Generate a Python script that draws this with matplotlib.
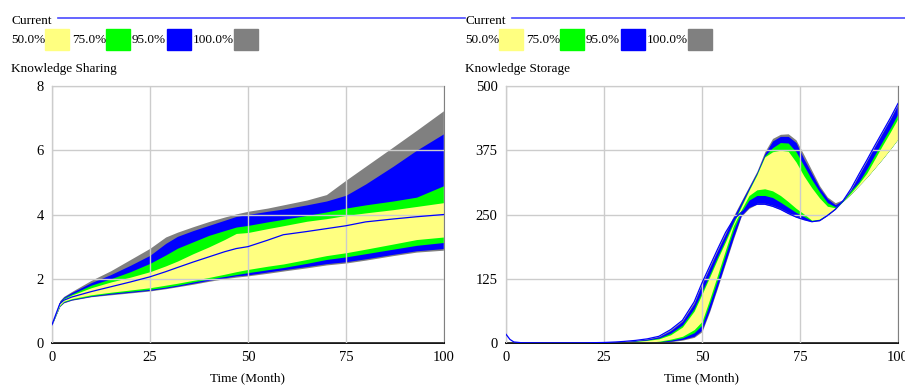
import numpy as np
import matplotlib
matplotlib.use("Agg")
import matplotlib.pyplot as plt
from matplotlib.patches import Rectangle

plt.rcParams['font.family'] = ['Liberation Serif', 'DejaVu Serif']

W, H = 905, 385

# ---- Knowledge Sharing (left panel) ----
share_t = [0, 1, 2, 3, 5, 10, 15, 20, 25, 29, 32, 36, 40, 44, 47, 50, 55, 59, 65, 70, 75, 80, 87, 93, 100]
share_gray_hi = [0.57, 0.95, 1.32, 1.45, 1.6, 1.95, 2.25, 2.6, 2.95, 3.3, 3.45, 3.62, 3.78, 3.92, 4.02, 4.1, 4.2, 4.3, 4.45, 4.62, 5.07, 5.5, 6.1, 6.62, 7.24]
share_blue_hi = [0.57, 0.95, 1.3, 1.43, 1.57, 1.88, 2.13, 2.42, 2.73, 3.1, 3.32, 3.5, 3.66, 3.82, 3.94, 4.0, 4.1, 4.17, 4.3, 4.42, 4.6, 4.95, 5.5, 6.0, 6.52]
share_green_hi = [0.57, 0.93, 1.27, 1.4, 1.52, 1.8, 2.0, 2.22, 2.48, 2.74, 2.95, 3.15, 3.35, 3.5, 3.61, 3.66, 3.77, 3.85, 3.97, 4.08, 4.2, 4.3, 4.42, 4.54, 4.9]
share_yellow_hi = [0.57, 0.92, 1.25, 1.37, 1.49, 1.72, 1.9, 2.05, 2.22, 2.4, 2.55, 2.78, 2.99, 3.22, 3.41, 3.44, 3.56, 3.65, 3.79, 3.87, 3.97, 4.05, 4.15, 4.25, 4.37]
share_current = [0.57, 0.9, 1.22, 1.33, 1.43, 1.6, 1.75, 1.9, 2.06, 2.22, 2.35, 2.52, 2.68, 2.84, 2.94, 3.0, 3.2, 3.37, 3.47, 3.56, 3.65, 3.77, 3.86, 3.93, 4.0]
share_yellow_lo = [0.57, 0.88, 1.18, 1.3, 1.38, 1.5, 1.58, 1.65, 1.72, 1.8, 1.86, 1.95, 2.04, 2.14, 2.22, 2.29, 2.39, 2.46, 2.6, 2.72, 2.81, 2.92, 3.08, 3.22, 3.3]
share_green_lo = [0.57, 0.87, 1.16, 1.28, 1.36, 1.47, 1.55, 1.61, 1.67, 1.74, 1.8, 1.9, 1.99, 2.07, 2.13, 2.19, 2.28, 2.35, 2.48, 2.6, 2.68, 2.78, 2.92, 3.04, 3.13]
share_blue_lo = [0.57, 0.86, 1.15, 1.26, 1.34, 1.45, 1.52, 1.58, 1.64, 1.71, 1.77, 1.86, 1.95, 2.03, 2.09, 2.12, 2.21, 2.28, 2.38, 2.47, 2.53, 2.62, 2.76, 2.87, 2.94]
share_gray_lo = [0.57, 0.86, 1.14, 1.25, 1.33, 1.44, 1.5, 1.56, 1.62, 1.69, 1.75, 1.83, 1.92, 2.0, 2.05, 2.09, 2.17, 2.24, 2.34, 2.43, 2.49, 2.58, 2.72, 2.83, 2.89]

# ---- Knowledge Storage (right panel) ----
store_t = [0, 1, 2, 4, 10, 20, 25, 28, 30, 33, 36, 39, 42, 45, 48, 50, 52, 54, 56, 58, 60, 62, 64, 66, 68, 70, 72, 74, 76, 78, 80, 82, 84, 86, 88, 90, 92, 94, 96, 98, 100]
store_gray_hi = [17, 7, 2, 0.5, 0.2, 0.3, 1, 2, 3, 5, 8, 13, 26, 44, 80, 117, 150, 183, 215, 247, 276, 305, 334, 372, 398, 406, 407, 395, 366, 336, 306, 284, 273, 279, 300, 328, 355, 383, 410, 437, 466]
store_blue_hi = [17, 7, 2, 0.5, 0.2, 0.3, 0.9, 1.8, 2.7, 4.5, 7.3, 12, 24, 42, 77, 114, 147, 180, 212, 244, 274, 303, 332, 368, 393, 402, 402, 390, 358, 330, 302, 281, 269, 278, 298, 326, 353, 381, 408, 435, 464]
store_green_hi = [17, 7, 2, 0.5, 0.2, 0.25, 0.7, 1.4, 2.1, 3.5, 5.8, 9.5, 19, 35, 67, 100, 134, 169, 202, 236, 268, 299, 329, 364, 380, 390, 389, 372, 345, 318, 294, 273, 265, 277, 296, 313, 338, 365, 392, 418, 446]
store_yellow_hi = [17, 7, 2, 0.5, 0.2, 0.2, 0.6, 1.2, 1.8, 3, 5, 8, 16, 31, 62, 95, 129, 164, 197, 232, 265, 297, 327, 362, 372, 375, 373, 352, 325, 302, 282, 266, 263, 276, 292, 310, 330, 357, 384, 410, 437]
store_yellow_lo = [17, 7, 2, 0.3, 0, 0, 0, 0, 0, 0, 1.2, 3.5, 7.5, 13, 26, 42, 86, 133, 181, 228, 259, 287, 298, 300, 296, 287, 275, 262, 251, 239, 241, 251, 262, 276, 290, 306, 322, 340, 358, 377, 397]
store_green_lo = [17, 7, 2, 0.3, 0, 0, 0, 0, 0, 0, 0.8, 2.5, 5.5, 10, 20, 35, 78, 124, 172, 219, 255, 278, 287, 287, 283, 274, 264, 254, 246, 238, 240, 250, 261, 276, 290, 306, 322, 340, 358, 377, 397]
store_blue_lo = [17, 7, 2, 0.3, 0, 0, 0, 0, 0, 0, 0.4, 1.5, 3.5, 7, 13, 25, 65, 111, 158, 205, 248, 264, 272, 272, 268, 262, 254, 247, 241, 237, 239, 249, 261, 276, 290, 306, 322, 340, 358, 377, 397]
store_gray_lo = [17, 7, 2, 0.3, 0, 0, 0, 0, 0, 0, 0, 1, 2.5, 5.5, 11, 22, 62, 108, 155, 202, 246, 262, 270, 270, 266, 260, 252, 245, 240, 236, 238, 248, 260, 276, 290, 306, 322, 340, 358, 377, 397]
store_current = [17, 7, 2, 0.5, 0.2, 0.3, 1, 2, 3, 5, 8, 13, 26, 44, 80, 117, 150, 183, 215, 240, 254, 264, 270, 270, 266, 260, 252, 245, 240, 236, 238, 248, 260, 277, 300, 328, 355, 383, 410, 437, 466]

legend_labels = ["50.0%", "75.0%", "95.0%", "100.0%"]
band_colors = ["#ffff80", "#00ff00", "#0000ff", "#808080"]
x_ticks = [0, 25, 50, 75, 100]


def fx(px):
    return px / W


def fy(py):
    return 1 - py / H


fig = plt.figure(figsize=(W / 100, H / 100), dpi=100)


def draw_panel(left_px, title, t, lows, highs, current, ymax, yticks):
    ax = fig.add_axes([fx(left_px), fy(343), 392 / W, 257 / H])
    # outer band first, inner bands painted over it
    for lo, hi, c in zip(lows[::-1], highs[::-1], band_colors[::-1]):
        ax.fill_between(t, lo, hi, color=c, lw=0, zorder=1)
    ax.plot(t, current, color="#0000ff", lw=0.9, zorder=3)
    ax.set_xlim(0, 100)
    ax.set_ylim(0, ymax)
    ax.set_xticks(x_ticks)
    ax.set_yticks(yticks)
    ax.set_axisbelow(False)
    ax.grid(color="#cccccc", lw=1)
    ax.tick_params(length=0, labelsize=10.5, pad=6)
    for side in ["top", "right"]:
        ax.spines[side].set_color("#808080")
    ax.spines["left"].set_color("#555555")
    ax.spines["bottom"].set_color("#000000")
    ax.spines["bottom"].set_linewidth(1.3)

    # header: "Current" + line, legend swatches, variable name
    x0 = left_px - 41
    fig.text(fx(x0), fy(21), "Current", fontsize=9.5, va="center")
    fig.add_artist(plt.Line2D([fx(x0 + 47), fx(x0 + 454)], [fy(18), fy(18)],
                              color="#4a4aff", lw=1.2))
    label_x = [x0, x0 + 61, x0 + 121, x0 + 182]
    box_x = [x0 + 34, x0 + 95, x0 + 156, x0 + 223]
    for lab, lx, bx, c in zip(legend_labels, label_x, box_x, band_colors):
        fig.text(fx(lx), fy(40), lab, fontsize=9.5, va="center")
        fig.add_artist(Rectangle((fx(bx), fy(50)), 24 / W, 21 / H, color=c,
                                 transform=fig.transFigure))
    fig.text(fx(x0), fy(69), title, fontsize=9.5, va="center")
    fig.text(fx(left_px + 196), fy(378), "Time (Month)", fontsize=9.5,
             ha="center", va="center")
    return ax


draw_panel(52, "Knowledge Sharing", share_t,
           [share_yellow_lo, share_green_lo, share_blue_lo, share_gray_lo],
           [share_yellow_hi, share_green_hi, share_blue_hi, share_gray_hi],
           share_current, 8, [0, 2, 4, 6, 8])

draw_panel(506, "Knowledge Storage", store_t,
           [store_yellow_lo, store_green_lo, store_blue_lo, store_gray_lo],
           [store_yellow_hi, store_green_hi, store_blue_hi, store_gray_hi],
           store_current, 500, [0, 125, 250, 375, 500])

fig.savefig("out.png", dpi=100)
